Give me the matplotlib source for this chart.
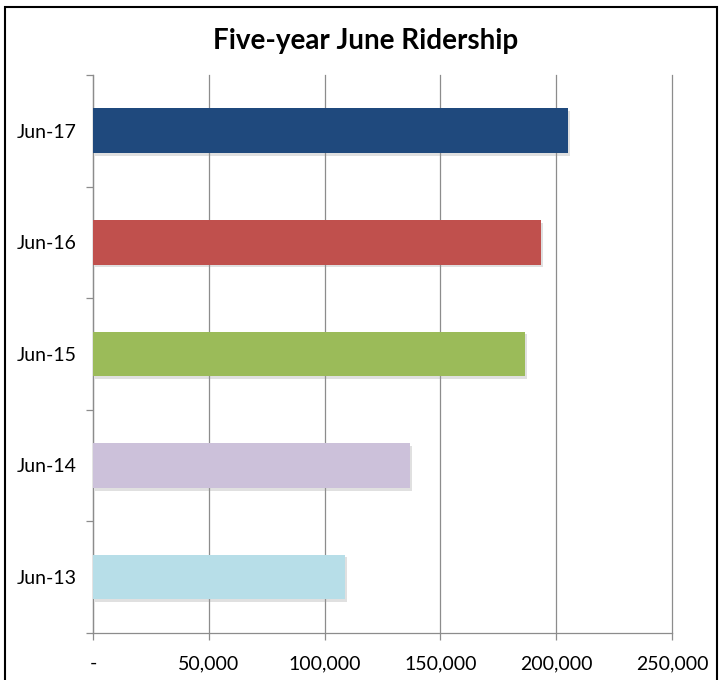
import numpy as np
import matplotlib.pyplot as plt
from matplotlib.patches import Rectangle
from matplotlib.ticker import FuncFormatter, FixedLocator
import matplotlib.patheffects as pe

months = ['Jun-13', 'Jun-14', 'Jun-15', 'Jun-16', 'Jun-17']
riders = [108700, 136900, 186400, 193400, 205000]
colors = ['#B7DEE8', '#CCC1DA', '#9BBB59', '#C0504D', '#1F497D']
xticks = [0, 50000, 100000, 150000, 200000, 250000]

plt.rcParams['font.family'] = ['Lato', 'DejaVu Sans']

fig = plt.figure(figsize=(7.21, 6.8), dpi=100)
ax = fig.add_axes([93 / 721, 1 - 632.75 / 680, 579 / 721, (632.75 - 75) / 680])

y = np.arange(len(months))
shadow = [pe.SimplePatchShadow(offset=(1.5, -2), shadow_rgbFace='#999999', alpha=0.3), pe.Normal()]
bars = ax.barh(y, riders, height=0.4, color=colors, zorder=3)
for b in bars:
    b.set_path_effects(shadow)

ax.set_xlim(0, 250000)
ax.set_ylim(-0.5, len(months) - 0.5)
ax.set_xticks(xticks)
ax.xaxis.set_major_formatter(FuncFormatter(lambda v, p: '-' if v == 0 else f'{int(v):,}'))
ax.set_yticks(y)
ax.set_yticklabels(months)
ax.yaxis.set_minor_locator(FixedLocator(np.arange(-0.5, len(months), 1.0)))

ax.grid(axis='x', color='#8c8c8c', linewidth=0.9, zorder=0)
for gl in ax.get_xgridlines():
    gl.set_clip_on(False)
for s in ['top', 'right']:
    ax.spines[s].set_visible(False)
for s in ['left', 'bottom']:
    ax.spines[s].set_color('#8c8c8c')
    ax.spines[s].set_linewidth(0.9)

ax.tick_params(axis='y', which='major', length=0, pad=12, labelsize=14)
ax.tick_params(axis='y', which='minor', length=5, color='#8c8c8c', width=0.9)
ax.tick_params(axis='x', which='major', length=5, color='#8c8c8c', width=0.9, pad=11, labelsize=14)

fig.text(0.507, 0.94, 'Five-year June Ridership', ha='center', va='center',
         fontsize=20, fontweight='bold')

fig.patches.append(Rectangle((5 / 721, -0.05), 712 / 721, 1.05 - 7 / 680,
                             transform=fig.transFigure, fill=False,
                             edgecolor='black', linewidth=1.5))

fig.savefig('out.png', dpi=100, facecolor='white')
